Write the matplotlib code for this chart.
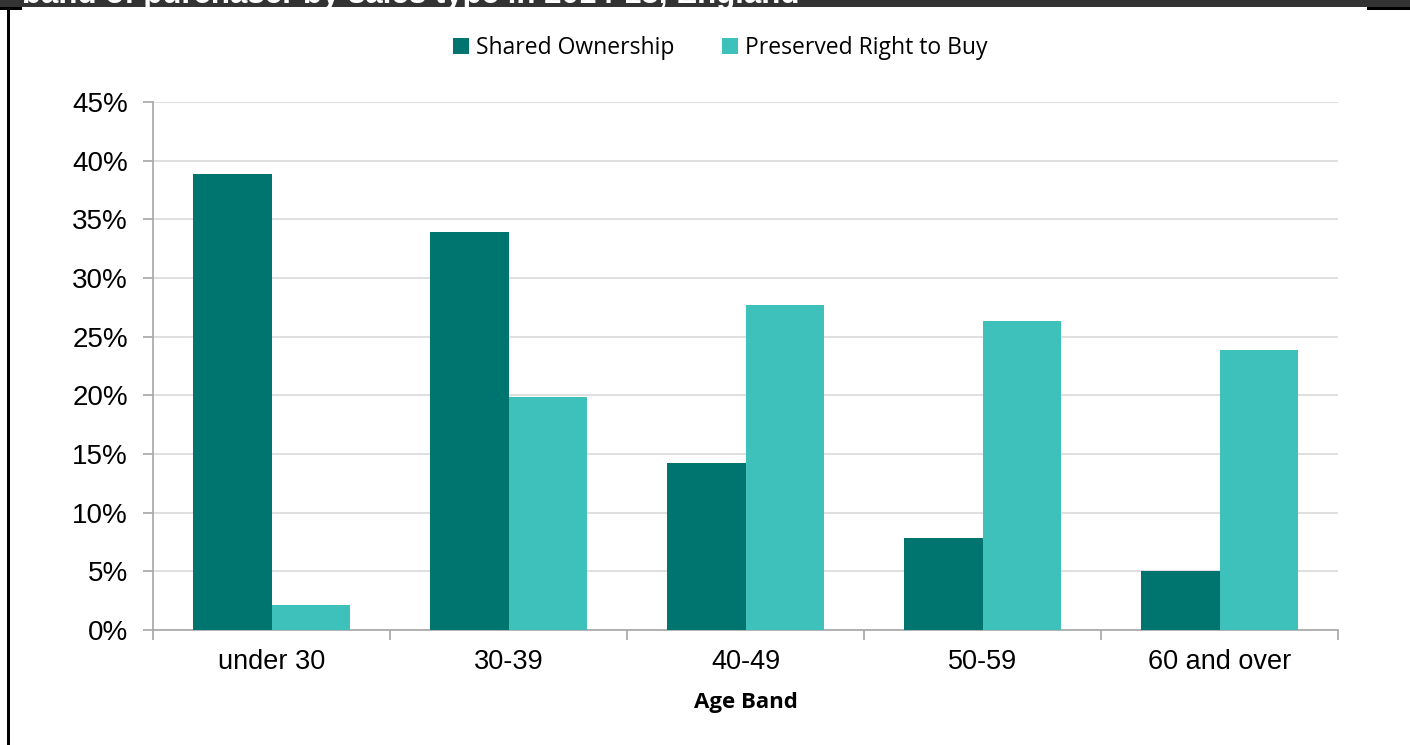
import numpy as np
import matplotlib.pyplot as plt
from matplotlib.patches import Rectangle

age_bands = ['under 30', '30-39', '40-49', '50-59', '60 and over']
shared_ownership = [38.9, 33.9, 14.2, 7.8, 5.0]
preserved_rtb = [2.1, 19.9, 27.7, 26.3, 23.9]
series_names = ['Shared Ownership', 'Preserved Right to Buy']
title = 'band of purchaser by sales type in 2014-15, England'

W, H = 1410, 745
fig = plt.figure(figsize=(W / 100, H / 100), dpi=100)
fig.patch.set_facecolor('white')

# page furniture: dark heading strip and black frame edges
def px_rect(x0, y0, x1, y1, color):
    fig.add_artist(Rectangle((x0 / W, 1 - y1 / H), (x1 - x0) / W, (y1 - y0) / H,
                             transform=fig.transFigure, facecolor=color,
                             edgecolor='none', zorder=0))

px_rect(0, 0, W, 7, '#333333')
px_rect(0, 7, 22, 10, 'black')
px_rect(1367, 7, W, 10, 'black')
px_rect(7, 7, 10, H, 'black')
fig.text(22 / W, 1 - 3 / H, title, color='white', fontsize=22.5, fontweight='bold',
         family='Liberation Sans', va='baseline', ha='left')

ax = fig.add_axes([153 / W, 1 - 630 / H, (1338 - 153) / W, (630 - 102) / H])

x = np.arange(len(age_bands))
w = 0.33
dark = '#007570'
light = '#3EC1BA'
ax.bar(x - w / 2, shared_ownership, w, color=dark, label=series_names[0], zorder=3)
ax.bar(x + w / 2, preserved_rtb, w, color=light, label=series_names[1], zorder=3)

ax.set_xlim(-0.5, len(age_bands) - 0.5)
ax.set_ylim(0, 45)
ax.set_yticks(np.arange(0, 46, 5))
ax.set_yticklabels([f'{v}%' for v in range(0, 46, 5)], family='Liberation Sans',
                   fontsize=20)
ax.yaxis.grid(True, color='#d9d9d9', linewidth=1.2, zorder=0)
ax.set_axisbelow(True)

ax.set_xticks(x)
ax.set_xticklabels(age_bands, family='Liberation Sans', fontsize=19.5)
ax.set_xticks(np.arange(-0.5, len(age_bands), 1), minor=True)
ax.tick_params(axis='x', which='major', length=0, pad=14)
ax.tick_params(axis='x', which='minor', length=7, color='#a6a6a6', width=1.2)
ax.tick_params(axis='y', length=7, color='#a6a6a6', width=1.2, pad=11)

for side in ['top', 'right']:
    ax.spines[side].set_visible(False)
for side in ['left', 'bottom']:
    ax.spines[side].set_color('#a6a6a6')
    ax.spines[side].set_linewidth(1.2)

ax.set_xlabel('Age Band', family='Open Sans', fontweight='bold', fontsize=16,
              labelpad=12)

ax.legend(loc='center', bbox_to_anchor=(720 / W, 1 - 48 / H),
          bbox_transform=fig.transFigure, ncol=2, frameon=False,
          prop={'family': 'Open Sans', 'size': 16.5}, handlelength=0.7,
          handleheight=0.7, handletextpad=0.3, columnspacing=2.1)

fig.savefig('out.png', dpi=100)
